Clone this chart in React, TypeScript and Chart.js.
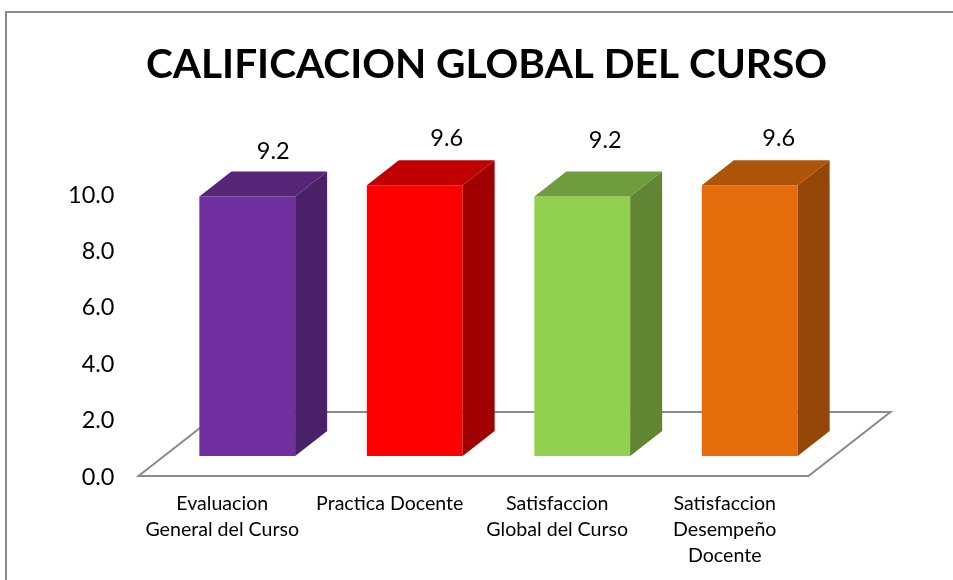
import React, { useEffect, useRef } from "react";
import { Chart, registerables } from "chart.js";

Chart.register(...registerables);

const titleText = "CALIFICACION GLOBAL DEL CURSO";
const categories = [
  ["Evaluacion", "General del Curso"],
  "Practica Docente",
  ["Satisfaccion", "Global del Curso"],
  ["Satisfaccion", "Desempeño", "Docente"],
];
const values = [9.2, 9.6, 9.2, 9.6];
const valueLabels = ["9.2", "9.6", "9.2", "9.6"];
const frontColors = ["#7030A0", "#FF0000", "#92D050", "#E46C0A"];
const sideColors = ["#4A2069", "#A00000", "#608634", "#934606"];
const topColors = ["#562577", "#C00000", "#6F9D3D", "#AE5408"];

// Individual label nudges relative to each bar's centre and top
const labelDX = [26, 32, 23, 29];
const labelDY = [-45, -47, -56, -47];

const FONT = "Lato, Carlito, sans-serif";
const DEPTH_X = 32;
const DEPTH_Y = 25;
const GRAY = "#8A8A8A";

const decorPlugin = {
  id: "decor",
  beforeDraw(chart: any) {
    const ctx = chart.ctx;
    ctx.save();
    ctx.fillStyle = GRAY;
    ctx.fillRect(5, 11, chart.width - 5, 2);
    ctx.fillRect(5, 11, 2, chart.height - 11);
    ctx.restore();
  },
  beforeDatasetsDraw(chart: any) {
    const ctx = chart.ctx;
    const { left, right, bottom } = chart.chartArea;
    const fl = left - 25;
    const fr = right - 25;
    const fy = bottom + 20;
    const by = bottom - 44;
    const dx = 82;
    ctx.save();
    ctx.strokeStyle = GRAY;
    ctx.lineWidth = 2;
    ctx.beginPath();
    ctx.moveTo(fl + dx, by);
    ctx.lineTo(fr + dx, by);
    ctx.lineTo(fr, fy);
    ctx.lineTo(fl, fy);
    ctx.closePath();
    ctx.stroke();
    ctx.restore();
  },
  afterDatasetsDraw(chart: any) {
    const ctx = chart.ctx;
    const meta = chart.getDatasetMeta(0);
    ctx.save();
    meta.data.forEach((bar: any, i: number) => {
      const l = bar.x - bar.width / 2;
      const r = bar.x + bar.width / 2;
      const t = bar.y;
      const b = bar.base;
      ctx.fillStyle = sideColors[i];
      ctx.beginPath();
      ctx.moveTo(r, t);
      ctx.lineTo(r + DEPTH_X, t - DEPTH_Y);
      ctx.lineTo(r + DEPTH_X, b - DEPTH_Y);
      ctx.lineTo(r, b);
      ctx.closePath();
      ctx.fill();
      ctx.fillStyle = topColors[i];
      ctx.beginPath();
      ctx.moveTo(l, t);
      ctx.lineTo(l + DEPTH_X, t - DEPTH_Y);
      ctx.lineTo(r + DEPTH_X, t - DEPTH_Y);
      ctx.lineTo(r, t);
      ctx.closePath();
      ctx.fill();
      ctx.fillStyle = "#000000";
      ctx.font = `23.5px ${FONT}`;
      ctx.textAlign = "center";
      ctx.textBaseline = "middle";
      ctx.fillText(valueLabels[i], bar.x + labelDX[i], t + labelDY[i]);
    });
    ctx.restore();
  },
};

export default function App() {
  const ref = useRef<HTMLCanvasElement | null>(null);
  useEffect(() => {
    const chart = new Chart(ref.current as HTMLCanvasElement, {
      type: "bar",
      data: {
        labels: categories,
        datasets: [
          {
            data: values,
            backgroundColor: frontColors,
            borderWidth: 0,
            categoryPercentage: 1,
            barPercentage: 0.572,
          },
        ],
      },
      plugins: [decorPlugin],
      options: {
        animation: false,
        responsive: false,
        layout: { padding: { left: 20, right: 0, top: 0, bottom: 0 } },
        plugins: {
          legend: { display: false },
          tooltip: { enabled: false },
          title: {
            display: true,
            text: titleText,
            color: "#000000",
            font: { family: FONT, size: 40.6, weight: "bold", lineHeight: 1.2 },
            padding: { top: 40.6, bottom: 84.7 },
          },
        },
        scales: {
          x: {
            grid: { display: false, drawTicks: false },
            border: { display: false },
            afterFit(scale: any) {
              scale.height = 124;
            },
            ticks: {
              color: "#000000",
              font: { family: FONT, size: 19.6, lineHeight: "26px" },
              labelOffset: -25,
              padding: 35,
              maxRotation: 0,
              minRotation: 0,
              autoSkip: false,
            },
          },
          y: {
            min: 0,
            max: 10,
            grid: { display: false, drawTicks: false },
            border: { display: false },
            afterFit(scale: any) {
              scale.width = 143.5;
            },
            ticks: {
              color: "#000000",
              stepSize: 2,
              font: { family: FONT, size: 23.5 },
              labelOffset: 21,
              padding: 49,
              callback: (v: any) => Number(v).toFixed(1),
            },
          },
          // Empty right-hand axis: reserves the space right of the bars so the title stays centred on the frame
          spacer: {
            position: "right",
            min: 0,
            max: 1,
            grid: { display: false, drawTicks: false },
            border: { display: false },
            ticks: { display: false },
            afterFit(scale: any) {
              scale.width = 119.5;
            },
          },
        },
      },
    } as any);
    return () => chart.destroy();
  }, []);
  return (
    <div style={{ position: "fixed", left: 0, top: 0, width: 953, height: 580, background: "#fff" }}>
      <canvas ref={ref} width={953} height={580} style={{ display: "block" }} />
    </div>
  );
}
